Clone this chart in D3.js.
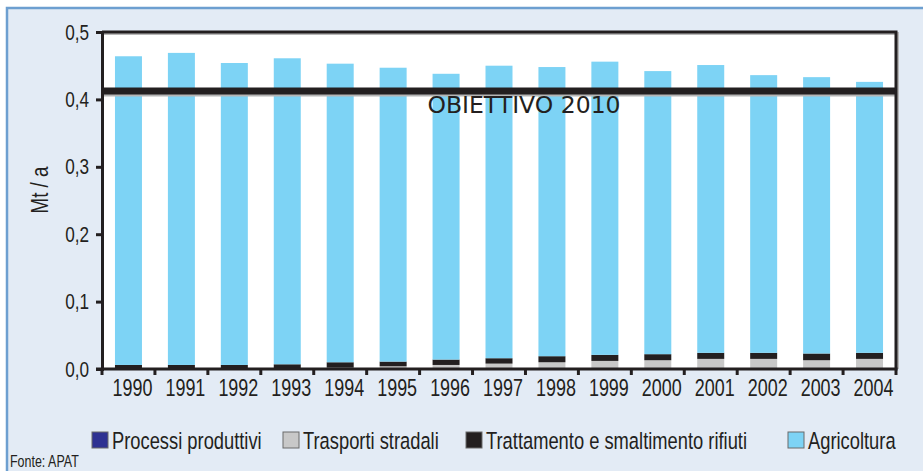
<!DOCTYPE html>
<html>
<head>
<meta charset="utf-8">
<script src="https://cdn.jsdelivr.net/npm/d3@7"></script>
<style>
  body { margin: 0; background: #fff; }
  svg text { fill: #231f20; }
</style>
</head>
<body>
<div id="chart"></div>
<script>
// data (Mt / a)
const years = ["1990","1991","1992","1993","1994","1995","1996","1997","1998","1999","2000","2001","2002","2003","2004"];
const processi  = [0,0,0,0,0,0,0,0,0,0,0,0,0,0,0];
const trasporti = [0,0,0,0,0.002,0.004,0.006,0.008,0.010,0.012,0.013,0.015,0.015,0.013,0.015];
const rifiuti   = [0.006,0.006,0.006,0.007,0.008,0.007,0.008,0.008,0.009,0.009,0.009,0.009,0.009,0.010,0.009];
const totals    = [0.464,0.469,0.454,0.461,0.453,0.447,0.438,0.450,0.448,0.456,0.442,0.451,0.436,0.433,0.426];
const agricoltura = totals.map((t, i) => +(t - processi[i] - trasporti[i] - rifiuti[i]).toFixed(3));
const obiettivo = 0.4125;
const yTicks = [0, 0.1, 0.2, 0.3, 0.4, 0.5];

const seriesNames = ["Processi produttivi", "Trasporti stradali", "Trattamento e smaltimento rifiuti", "Agricoltura"];
const seriesColors = ["#2e3192", "#c8c8c8", "#231f20", "#7dd3f5"];

const w = 923, h = 471;
const margin = { top: 32, right: 27, bottom: 102, left: 102 };
const font = "'Liberation Sans', Arial, sans-serif";
const squeeze = 0.78; // the original uses a condensed face

const svg = d3.select("#chart").append("svg")
  .attr("width", w).attr("height", h)
  .style("font-family", font);

// condensed text helper
function ctext(g, x, y, txt, size, anchor) {
  return g.append("text")
    .attr("transform", `translate(${x},${y}) scale(${squeeze},1)`)
    .attr("text-anchor", anchor || "start")
    .style("font-size", size + "px")
    .text(txt);
}

// outer frame
svg.append("rect")
  .attr("x", 7).attr("y", 8).attr("width", w).attr("height", h)
  .attr("fill", "#e3ebf5").attr("stroke", "#6d9fd0").attr("stroke-width", 2.5);

const xScale = d3.scaleBand().domain(years)
  .range([margin.left, w - margin.right]).paddingInner(0.49).paddingOuter(0.245);
const xTickScale = d3.scaleBand().domain(years).range([margin.left, w - margin.right]);
const yScale = d3.scaleLinear().domain([0, 0.5]).range([h - margin.bottom, margin.top]);

// plot background
svg.append("rect")
  .attr("x", margin.left).attr("y", margin.top)
  .attr("width", w - margin.left - margin.right)
  .attr("height", yScale(0) - margin.top)
  .attr("fill", "#fff");

// stacked bars
const table = years.map((y, i) => ({
  year: y,
  [seriesNames[0]]: processi[i],
  [seriesNames[1]]: trasporti[i],
  [seriesNames[2]]: rifiuti[i],
  [seriesNames[3]]: agricoltura[i]
}));
const stack = d3.stack().keys(seriesNames)(table);

svg.append("g").selectAll("g")
  .data(stack).enter().append("g")
  .attr("fill", (d, i) => seriesColors[i])
  .selectAll("rect")
  .data(d => d).enter().append("rect")
  .attr("x", d => xScale(d.data.year))
  .attr("y", d => yScale(d[1]))
  .attr("width", xScale.bandwidth())
  .attr("height", d => yScale(d[0]) - yScale(d[1]));

// target line
const x0 = margin.left, x1 = w - margin.right;
svg.append("line")
  .attr("x1", x0).attr("x2", x1)
  .attr("y1", yScale(obiettivo) + 4).attr("y2", yScale(obiettivo) + 4)
  .attr("stroke", "#b5b5b5").attr("stroke-width", 3);
svg.append("line")
  .attr("x1", x0).attr("x2", x1)
  .attr("y1", yScale(obiettivo)).attr("y2", yScale(obiettivo))
  .attr("stroke", "#231f20").attr("stroke-width", 7);
svg.append("text")
  .attr("x", 524).attr("y", 113)
  .attr("text-anchor", "middle")
  .style("font-family", "'DejaVu Sans', sans-serif")
  .style("font-size", "23.5px")
  .text("OBIETTIVO 2010");

// frame lines (top and right) with a faint shadow
svg.append("path")
  .attr("d", `M${x0},${margin.top + 1.5}H${x1 + 1.5}V${yScale(0)}`)
  .attr("fill", "none").attr("stroke", "#b8b8b8").attr("stroke-width", 3);
svg.append("path")
  .attr("d", `M${x0},${margin.top}H${x1}V${yScale(0)}`)
  .attr("fill", "none").attr("stroke", "#231f20").attr("stroke-width", 3);

// y axis
const yAxis = d3.axisLeft(yScale).tickValues(yTicks).tickSize(6).tickFormat("");
const gy = svg.append("g").attr("transform", `translate(${margin.left},0)`).call(yAxis);
gy.select(".domain").attr("stroke", "#231f20").attr("stroke-width", 3);
gy.selectAll(".tick line").attr("stroke", "#231f20").attr("stroke-width", 3);
yTicks.forEach(v => {
  ctext(svg, 89, yScale(v) + 7.5, d3.format(".1f")(v).replace(".", ","), 22, "end");
});

// x axis: ticks on band edges, labels centred
const gx = svg.append("g").attr("transform", `translate(0,${yScale(0)})`);
gx.append("line").attr("x1", x0 - 6).attr("x2", x1 + 1.5)
  .attr("stroke", "#231f20").attr("stroke-width", 3);
gx.selectAll(".edge").data(years.concat(["end"])).enter().append("line")
  .attr("class", "edge")
  .attr("x1", (d, i) => i < years.length ? xTickScale(d) : x1)
  .attr("x2", (d, i) => i < years.length ? xTickScale(d) : x1)
  .attr("y1", 0).attr("y2", 6)
  .attr("stroke", "#231f20").attr("stroke-width", 3);
years.forEach(d => {
  ctext(gx, xTickScale(d) + xTickScale.bandwidth() / 2 + 4, 27, d, 23, "middle");
});

// y label
svg.append("text")
  .attr("transform", `translate(48,190) rotate(-90) scale(${squeeze},1)`)
  .attr("text-anchor", "middle")
  .style("font-size", "24px")
  .text("Mt / a");

// legend
const legendX = [92, 283, 466, 788];
seriesNames.forEach((name, i) => {
  const g = svg.append("g").attr("transform", `translate(${legendX[i]},432)`);
  g.append("rect")
    .attr("width", 16).attr("height", 16)
    .attr("fill", seriesColors[i])
    .attr("stroke", "#6a6a6a").attr("stroke-width", 1);
  ctext(g, 20, 16.5, name, 23.5);
});

ctext(svg, 10, 467, "Fonte: APAT", 16);
</script>
</body>
</html>
